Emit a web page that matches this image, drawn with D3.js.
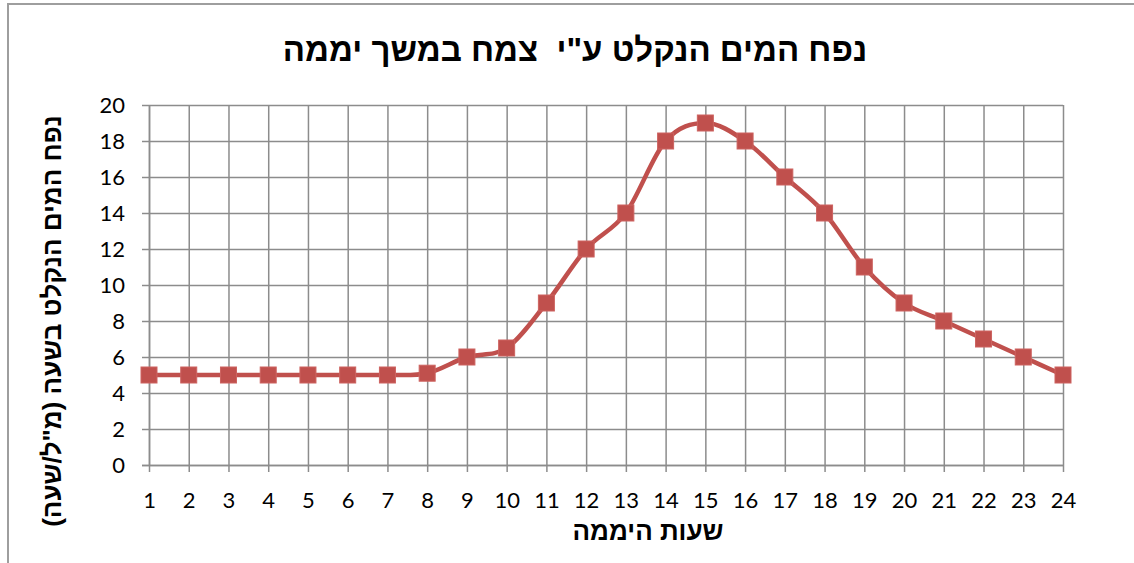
<!DOCTYPE html>
<html>
<head>
<meta charset="utf-8">
<script src="https://cdn.jsdelivr.net/npm/d3@7"></script>
<style>
  body { margin: 0; background: #fff; }
  svg { display: block; }
  .tick-label { font-family: Lato, "Open Sans", sans-serif; font-size: 22px; fill: #000; }
  .heb { font-family: "Liberation Sans", "DejaVu Sans", sans-serif; font-weight: bold; fill: #000; white-space: pre; }
</style>
</head>
<body>
<div id="chart"></div>
<script>
// hours of the day (x axis)
var hours = [1,2,3,4,5,6,7,8,9,10,11,12,13,14,15,16,17,18,19,20,21,22,23,24];
// water absorbed per hour (ml/hour)
var water = [5,5,5,5,5,5,5,5.1,6,6.5,9,12,14,18,19,18,16,14,11,9,8,7,6,5];
// y ticks
var yTicks = [0,2,4,6,8,10,12,14,16,18,20];

var titleText = 'נפח המים הנקלט ע"י  צמח במשך יממה';
var xTitle = 'שעות היממה';
var yTitle = 'נפח המים הנקלט בשעה (מ"ל/שעה)';

var W = 1134, H = 563;
var plotLeft = 149, plotRight = 1063, plotTop = 105, plotBottom = 465;
var lineColor = "#C0504D";
var gridColor = "#8C8C8C";

var svg = d3.select("#chart").append("svg").attr("width", W).attr("height", H);

// outer chart border (runs off the right and bottom edge)
svg.append("rect")
    .attr("x", 8).attr("y", 4)
    .attr("width", 1140).attr("height", 580)
    .attr("fill", "none")
    .attr("stroke", "#9E9E9E")
    .attr("stroke-width", 2);

var x = d3.scalePoint().domain(hours).range([plotLeft, plotRight]);
var y = d3.scaleLinear().domain([0, 20]).range([plotBottom, plotTop]);

// horizontal gridlines
svg.append("g")
    .attr("transform", `translate(${plotLeft},0)`)
    .call(d3.axisLeft(y).tickValues(yTicks).tickSize(-(plotRight - plotLeft)).tickFormat(""))
    .call(g => g.select(".domain").remove())
    .selectAll("line").attr("stroke", gridColor).attr("stroke-width", 1.5);

// vertical gridlines
svg.append("g")
    .attr("transform", `translate(0,${plotBottom})`)
    .call(d3.axisBottom(x).tickSize(-(plotBottom - plotTop)).tickFormat(""))
    .call(g => g.select(".domain").remove())
    .selectAll("line").attr("stroke", gridColor).attr("stroke-width", 1.5);

// y axis with outer ticks
var yAxis = svg.append("g")
    .attr("transform", `translate(${plotLeft},0)`)
    .call(d3.axisLeft(y).tickValues(yTicks).tickSize(7).tickSizeOuter(0).tickPadding(17));
yAxis.select(".domain").attr("stroke", gridColor).attr("stroke-width", 1.5);
yAxis.selectAll("line").attr("stroke", gridColor).attr("stroke-width", 1.5);
yAxis.selectAll("text").attr("class", "tick-label");

// x axis
var xAxis = svg.append("g")
    .attr("transform", `translate(0,${plotBottom})`)
    .call(d3.axisBottom(x).tickSize(7).tickSizeOuter(0).tickPadding(20));
xAxis.select(".domain").attr("stroke", gridColor).attr("stroke-width", 1.5)
    .attr("d", `M${plotLeft - 7},0.5H${plotRight}`);
xAxis.selectAll("line").attr("stroke", gridColor).attr("stroke-width", 1.5);
xAxis.selectAll("text").attr("class", "tick-label");
svg.selectAll("g").attr("font-size", null).attr("font-family", null);
svg.selectAll(".tick-label").attr("fill", "#000");

// smoothed line
var line = d3.line()
    .x((d, i) => x(hours[i]))
    .y(d => y(d))
    .curve(d3.curveCardinal.tension(0));

svg.append("path")
    .datum(water)
    .attr("d", line)
    .attr("fill", "none")
    .attr("stroke", lineColor)
    .attr("stroke-width", 4.5)
    .attr("stroke-linejoin", "round");

// square markers
var ms = 16;
svg.selectAll(".marker")
    .data(water)
    .enter()
    .append("rect")
    .attr("class", "marker")
    .attr("x", (d, i) => x(hours[i]) - ms / 2)
    .attr("y", d => y(d) - ms / 2)
    .attr("width", ms)
    .attr("height", ms)
    .attr("fill", lineColor)
    .attr("stroke", "#CD6360")
    .attr("stroke-width", 1);

// titles
svg.append("text")
    .attr("class", "heb")
    .attr("direction", "rtl")
    .attr("x", 575).attr("y", 61)
    .attr("text-anchor", "middle")
    .attr("font-size", 33)
    .text(titleText);

svg.append("text")
    .attr("class", "heb")
    .attr("direction", "rtl")
    .attr("x", 648).attr("y", 540)
    .attr("text-anchor", "middle")
    .attr("font-size", 26)
    .text(xTitle);

svg.append("text")
    .attr("class", "heb")
    .attr("direction", "rtl")
    .attr("transform", "translate(61,321) rotate(-90)")
    .attr("text-anchor", "middle")
    .attr("font-size", 26)
    .text(yTitle);
</script>
</body>
</html>
